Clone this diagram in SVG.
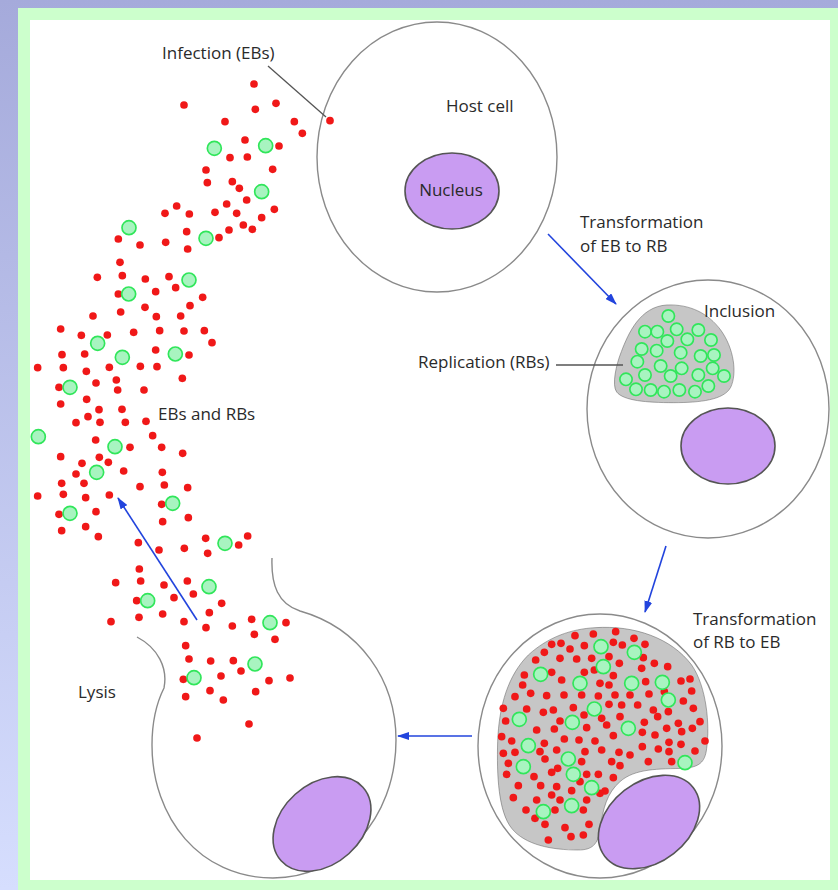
<svg xmlns="http://www.w3.org/2000/svg" xmlns:xlink="http://www.w3.org/1999/xlink" width="838" height="890" viewBox="0 0 838 890">
  <defs>
    <linearGradient id="bg" x1="0" y1="0" x2="0" y2="1">
      <stop offset="0" stop-color="#a5aadb"/>
      <stop offset="1" stop-color="#d6defe"/>
    </linearGradient>
    <marker id="arrow" viewBox="0 0 12 8" refX="11" refY="4" markerWidth="12" markerHeight="8" markerUnits="userSpaceOnUse" orient="auto">
      <path d="M0,0 L12,4 L0,8 Z" fill="#2244dd"/>
    </marker>
    <!-- elementary body (red) and reticulate body (green); drawn in 3x local units -->
    <circle id="eb" r="11.5" fill="#f01818"/>
    <circle id="rb" r="21" fill="#a8f4c0" stroke="#30e65a" stroke-width="5"/>
    <circle id="rbs" r="18.5" fill="#a8f4c0" stroke="#30e65a" stroke-width="5"/>
  </defs>
  <style>
    .membrane { fill: #ffffff; stroke: #8a8a8a; stroke-width: 1.4; }
    .nucleus { fill: #c99cf2; stroke: #555555; stroke-width: 1.6; }
    .inclusion { fill: #c6c6c6; stroke: #5a5a5a; stroke-width: 1.5; }
    .label { font-family: "Open Sans", "Liberation Sans", sans-serif; font-size: 17px; fill: #2a2a2a; }
    .leader { stroke: #555555; stroke-width: 1.3; fill: none; }
    .flow { stroke: #2244dd; stroke-width: 1.6; fill: none; marker-end: url(#arrow); }
  </style>

  <!-- page frame -->
  <rect x="0" y="0" width="838" height="890" fill="url(#bg)"/>
  <rect x="18" y="8" width="820" height="882" fill="#ccffcc"/>
  <rect x="30" y="20" width="800" height="860" fill="#ffffff"/>

  <!-- 1: host cell with nucleus -->
  <g id="host-cell">
    <ellipse class="membrane" cx="437" cy="157" rx="120" ry="135"/>
    <ellipse class="nucleus" cx="452" cy="191" rx="47" ry="38"/>
    <text class="label" x="451" y="196" text-anchor="middle">Nucleus</text>
    <text class="label" x="446" y="112">Host cell</text>
  </g>

  <!-- 2: cell with inclusion of replicating RBs -->
  <g id="inclusion-cell">
    <ellipse class="membrane" cx="708" cy="409" rx="121" ry="129"/>
    <g transform="translate(580,280) scale(0.33333)">
      <path class="inclusion" stroke-width="4.5" d="M260,75 C330,72 385,100 422,150 C462,205 472,280 452,322 C432,360 360,368 280,368 C200,368 130,362 110,336 C95,315 108,255 124,215 C145,160 180,80 260,75 Z"/>
      <use href="#rbs" x="265" y="108"/><use href="#rbs" x="195" y="155"/><use href="#rbs" x="232" y="155"/>
      <use href="#rbs" x="290" y="148"/><use href="#rbs" x="355" y="150"/><use href="#rbs" x="262" y="183"/>
      <use href="#rbs" x="322" y="178"/><use href="#rbs" x="393" y="180"/><use href="#rbs" x="185" y="207"/>
      <use href="#rbs" x="230" y="212"/><use href="#rbs" x="302" y="218"/><use href="#rbs" x="362" y="228"/>
      <use href="#rbs" x="402" y="225"/><use href="#rbs" x="172" y="245"/><use href="#rbs" x="242" y="258"/>
      <use href="#rbs" x="305" y="265"/><use href="#rbs" x="398" y="265"/><use href="#rbs" x="195" y="285"/>
      <use href="#rbs" x="272" y="288"/><use href="#rbs" x="355" y="285"/><use href="#rbs" x="432" y="288"/>
      <use href="#rbs" x="138" y="298"/><use href="#rbs" x="385" y="318"/><use href="#rbs" x="168" y="328"/>
      <use href="#rbs" x="212" y="330"/><use href="#rbs" x="252" y="335"/><use href="#rbs" x="298" y="330"/>
      <use href="#rbs" x="345" y="335"/>
    </g>
    <ellipse class="nucleus" cx="728" cy="446" rx="47" ry="38"/>
    <text class="label" x="704" y="317">Inclusion</text>
  </g>

  <!-- 3: cell packed with EBs and RBs -->
  <g id="mature-cell">
    <ellipse class="membrane" cx="600" cy="746" rx="122" ry="132"/>
    <g transform="translate(485,615) scale(0.33333)">
      <path class="inclusion" stroke-width="4.5" d="M330,38 C450,30 560,70 620,150 C665,215 675,330 665,400 C660,445 640,455 600,460 C520,462 450,460 405,500 C365,535 355,580 345,640 C340,690 320,705 280,705 C200,705 120,690 80,640 C40,590 35,480 38,380 C42,270 70,180 130,120 C190,65 260,42 330,38 Z"/>
      <use href="#eb" x="270" y="62"/><use href="#eb" x="325" y="57"/><use href="#eb" x="392" y="50"/><use href="#eb" x="447" y="70"/>
      <use href="#eb" x="200" y="88"/><use href="#eb" x="228" y="85"/><use href="#eb" x="255" y="102"/><use href="#eb" x="298" y="92"/>
      <use href="#eb" x="385" y="82"/><use href="#eb" x="412" y="90"/><use href="#eb" x="480" y="88"/><use href="#eb" x="178" y="112"/>
      <use href="#eb" x="372" y="125"/><use href="#eb" x="152" y="135"/><use href="#eb" x="225" y="130"/><use href="#eb" x="275" y="132"/>
      <use href="#eb" x="320" y="130"/><use href="#eb" x="403" y="145"/><use href="#eb" x="475" y="128"/><use href="#eb" x="508" y="145"/>
      <use href="#eb" x="548" y="155"/><use href="#eb" x="118" y="180"/><use href="#eb" x="200" y="172"/><use href="#eb" x="298" y="172"/>
      <use href="#eb" x="328" y="165"/><use href="#eb" x="385" y="182"/><use href="#eb" x="470" y="160"/><use href="#eb" x="113" y="210"/>
      <use href="#eb" x="230" y="195"/><use href="#eb" x="345" y="205"/><use href="#eb" x="372" y="210"/><use href="#eb" x="482" y="200"/>
      <use href="#eb" x="588" y="198"/><use href="#eb" x="615" y="192"/><use href="#eb" x="90" y="245"/><use href="#eb" x="137" y="235"/>
      <use href="#eb" x="185" y="242"/><use href="#eb" x="237" y="240"/><use href="#eb" x="290" y="240"/><use href="#eb" x="340" y="243"/>
      <use href="#eb" x="390" y="240"/><use href="#eb" x="435" y="240"/><use href="#eb" x="492" y="237"/><use href="#eb" x="538" y="230"/>
      <use href="#eb" x="620" y="228"/><use href="#eb" x="55" y="280"/><use href="#eb" x="125" y="282"/><use href="#eb" x="175" y="292"/>
      <use href="#eb" x="205" y="285"/><use href="#eb" x="265" y="278"/><use href="#eb" x="297" y="300"/><use href="#eb" x="372" y="268"/>
      <use href="#eb" x="410" y="270"/><use href="#eb" x="458" y="270"/><use href="#eb" x="505" y="285"/><use href="#eb" x="595" y="258"/>
      <use href="#eb" x="550" y="290"/><use href="#eb" x="625" y="280"/><use href="#eb" x="62" y="318"/><use href="#eb" x="225" y="318"/>
      <use href="#eb" x="350" y="310"/><use href="#eb" x="405" y="305"/><use href="#eb" x="478" y="322"/><use href="#eb" x="518" y="305"/>
      <use href="#eb" x="580" y="325"/><use href="#eb" x="645" y="320"/><use href="#eb" x="50" y="365"/><use href="#eb" x="155" y="345"/>
      <use href="#eb" x="208" y="342"/><use href="#eb" x="305" y="338"/><use href="#eb" x="365" y="330"/><use href="#eb" x="472" y="352"/>
      <use href="#eb" x="510" y="360"/><use href="#eb" x="545" y="340"/><use href="#eb" x="590" y="350"/><use href="#eb" x="622" y="340"/>
      <use href="#eb" x="80" y="378"/><use href="#eb" x="178" y="385"/><use href="#eb" x="238" y="372"/><use href="#eb" x="282" y="375"/>
      <use href="#eb" x="330" y="378"/><use href="#eb" x="385" y="362"/><use href="#eb" x="552" y="382"/><use href="#eb" x="588" y="388"/>
      <use href="#eb" x="660" y="378"/><use href="#eb" x="55" y="415"/><use href="#eb" x="90" y="412"/><use href="#eb" x="165" y="410"/>
      <use href="#eb" x="215" y="405"/><use href="#eb" x="300" y="410"/><use href="#eb" x="350" y="405"/><use href="#eb" x="402" y="412"/>
      <use href="#eb" x="435" y="420"/><use href="#eb" x="472" y="395"/><use href="#eb" x="520" y="402"/><use href="#eb" x="552" y="410"/>
      <use href="#eb" x="630" y="408"/><use href="#eb" x="70" y="445"/><use href="#eb" x="180" y="432"/><use href="#eb" x="290" y="440"/>
      <use href="#eb" x="380" y="440"/><use href="#eb" x="405" y="452"/><use href="#eb" x="490" y="440"/><use href="#eb" x="560" y="440"/>
      <use href="#eb" x="65" y="478"/><use href="#eb" x="147" y="485"/><use href="#eb" x="200" y="472"/><use href="#eb" x="218" y="460"/>
      <use href="#eb" x="305" y="478"/><use href="#eb" x="340" y="478"/><use href="#eb" x="385" y="488"/><use href="#eb" x="100" y="512"/>
      <use href="#eb" x="167" y="512"/><use href="#eb" x="215" y="515"/><use href="#eb" x="285" y="500"/><use href="#eb" x="360" y="528"/>
      <use href="#eb" x="85" y="548"/><use href="#eb" x="155" y="555"/><use href="#eb" x="200" y="540"/><use href="#eb" x="225" y="555"/>
      <use href="#eb" x="260" y="527"/><use href="#eb" x="305" y="555"/><use href="#eb" x="123" y="585"/><use href="#eb" x="150" y="610"/>
      <use href="#eb" x="210" y="585"/><use href="#eb" x="295" y="585"/><use href="#eb" x="180" y="628"/><use href="#eb" x="240" y="638"/>
      <use href="#eb" x="312" y="628"/><use href="#eb" x="190" y="675"/><use href="#eb" x="258" y="665"/><use href="#eb" x="295" y="660"/>
      <use href="#eb" x="345" y="535"/>
      <use href="#rb" x="348" y="95"/><use href="#rb" x="448" y="112"/><use href="#rb" x="355" y="155"/><use href="#rb" x="167" y="178"/>
      <use href="#rb" x="285" y="205"/><use href="#rb" x="440" y="205"/><use href="#rb" x="532" y="202"/><use href="#rb" x="550" y="255"/>
      <use href="#rb" x="328" y="282"/><use href="#rb" x="103" y="313"/><use href="#rb" x="262" y="322"/><use href="#rb" x="430" y="340"/>
      <use href="#rb" x="130" y="392"/><use href="#rb" x="250" y="432"/><use href="#rb" x="115" y="455"/><use href="#rb" x="265" y="478"/>
      <use href="#rb" x="320" y="518"/><use href="#rb" x="600" y="443"/><use href="#rb" x="260" y="572"/><use href="#rb" x="175" y="590"/>
    </g>
    <ellipse class="nucleus" cx="649" cy="822" rx="56" ry="40" transform="rotate(-38 649 822)"/>
  </g>

  <!-- 4: lysed cell, open at the top -->
  <g id="lysis-cell">
    <path class="membrane" fill="none" d="M272,558 C271,585 278,604 300,611 C360,628 396,680 396,740 C396,820 340,878 273,878 C200,878 152,818 152,745 C152,718 158,700 164,688 C168,668 158,648 137,637"/>
    <ellipse class="nucleus" cx="322" cy="824" rx="55" ry="40" transform="rotate(-42 322 824)"/>
    <text class="label" x="78" y="698">Lysis</text>
  </g>

  <!-- released EBs and RBs -->
  <g id="released-bodies">
    <g transform="translate(150,80) scale(0.33333)">
      <use href="#eb" x="312" y="12"/><use href="#eb" x="102" y="75"/><use href="#eb" x="378" y="70"/><use href="#eb" x="316" y="88"/>
      <use href="#eb" x="225" y="125"/><use href="#eb" x="433" y="125"/><use href="#eb" x="457" y="160"/><use href="#eb" x="540" y="122"/>
      <use href="#eb" x="285" y="180"/><use href="#eb" x="387" y="198"/><use href="#eb" x="240" y="233"/><use href="#eb" x="292" y="231"/>
      <use href="#eb" x="168" y="270"/><use href="#eb" x="368" y="268"/>
      <use href="#rb" x="193" y="205"/><use href="#rb" x="347" y="197"/>
    </g>
    <g transform="translate(20,180) scale(0.33333)">
      <use href="#eb" x="562" y="8"/><use href="#eb" x="637" y="5"/><use href="#eb" x="658" y="25"/><use href="#eb" x="680" y="60"/>
      <use href="#eb" x="620" y="72"/><use href="#eb" x="650" y="100"/><use href="#eb" x="585" y="97"/><use href="#eb" x="763" y="88"/>
      <use href="#eb" x="725" y="113"/><use href="#eb" x="670" y="135"/><use href="#eb" x="697" y="148"/><use href="#eb" x="627" y="150"/>
      <use href="#eb" x="597" y="173"/><use href="#eb" x="500" y="155"/><use href="#eb" x="508" y="102"/><use href="#eb" x="470" y="78"/>
      <use href="#eb" x="435" y="100"/><use href="#eb" x="437" y="187"/><use href="#eb" x="503" y="207"/><use href="#eb" x="360" y="195"/>
      <use href="#eb" x="295" y="177"/><use href="#eb" x="300" y="247"/><use href="#eb" x="307" y="287"/><use href="#eb" x="232" y="292"/>
      <use href="#eb" x="376" y="297"/><use href="#eb" x="447" y="290"/><use href="#eb" x="467" y="323"/><use href="#eb" x="407" y="335"/>
      <use href="#eb" x="295" y="342"/><use href="#eb" x="548" y="352"/><use href="#eb" x="510" y="377"/><use href="#eb" x="375" y="382"/>
      <use href="#eb" x="302" y="396"/><use href="#eb" x="219" y="408"/><use href="#eb" x="409" y="410"/><use href="#eb" x="482" y="408"/>
      <use href="#eb" x="122" y="447"/><use href="#eb" x="184" y="466"/><use href="#eb" x="262" y="465"/><use href="#eb" x="341" y="457"/>
      <use href="#eb" x="419" y="452"/><use href="#eb" x="492" y="453"/><use href="#eb" x="553" y="452"/><use href="#eb" x="576" y="488"/>
      <use href="#eb" x="126" y="524"/><use href="#eb" x="194" y="522"/><use href="#eb" x="407" y="510"/><use href="#eb" x="507" y="525"/>
      <use href="#eb" x="53" y="563"/><use href="#eb" x="130" y="563"/><use href="#eb" x="199" y="574"/><use href="#eb" x="268" y="562"/>
      <use href="#eb" x="361" y="559"/><use href="#eb" x="411" y="560"/><use href="#eb" x="487" y="595"/><use href="#eb" x="117" y="622"/>
      <use href="#eb" x="228" y="609"/><use href="#eb" x="289" y="600"/><use href="#eb" x="293" y="630"/><use href="#eb" x="372" y="630"/>
      <use href="#eb" x="200" y="658"/><use href="#eb" x="122" y="672"/><use href="#eb" x="237" y="689"/><use href="#eb" x="306" y="688"/>
      <use href="#eb" x="168" y="728"/><use href="#eb" x="204" y="710"/><use href="#eb" x="240" y="727"/><use href="#eb" x="316" y="727"/>
      <use href="#eb" x="378" y="724"/><use href="#eb" x="398" y="767"/><use href="#eb" x="227" y="780"/><use href="#eb" x="330" y="802"/>
      <use href="#eb" x="425" y="802"/><use href="#eb" x="488" y="820"/><use href="#eb" x="122" y="830"/><use href="#eb" x="238" y="832"/>
      <use href="#eb" x="265" y="847"/><use href="#eb" x="186" y="850"/><use href="#eb" x="311" y="873"/><use href="#eb" x="427" y="877"/>
      <use href="#eb" x="168" y="882"/>
      <use href="#rb" x="725" y="35"/><use href="#rb" x="558" y="175"/><use href="#rb" x="327" y="143"/><use href="#rb" x="507" y="300"/>
      <use href="#rb" x="326" y="342"/><use href="#rb" x="233" y="490"/><use href="#rb" x="307" y="532"/><use href="#rb" x="466" y="522"/>
      <use href="#rb" x="150" y="622"/><use href="#rb" x="55" y="770"/><use href="#rb" x="285" y="800"/><use href="#rb" x="230" y="877"/>
    </g>
    <g transform="translate(20,480) scale(0.33333)">
      <use href="#eb" x="125" y="10"/><use href="#eb" x="192" y="10"/><use href="#eb" x="53" y="48"/><use href="#eb" x="130" y="43"/>
      <use href="#eb" x="197" y="53"/><use href="#eb" x="268" y="45"/><use href="#eb" x="360" y="20"/><use href="#eb" x="433" y="15"/>
      <use href="#eb" x="503" y="23"/><use href="#eb" x="425" y="73"/><use href="#eb" x="117" y="103"/><use href="#eb" x="228" y="95"/>
      <use href="#eb" x="505" y="113"/><use href="#eb" x="428" y="125"/><use href="#eb" x="125" y="152"/><use href="#eb" x="197" y="140"/>
      <use href="#eb" x="235" y="170"/><use href="#eb" x="355" y="188"/><use href="#eb" x="417" y="210"/><use href="#eb" x="493" y="205"/>
      <use href="#eb" x="557" y="175"/><use href="#eb" x="563" y="220"/><use href="#eb" x="656" y="195"/><use href="#eb" x="683" y="168"/>
      <use href="#eb" x="358" y="267"/><use href="#eb" x="287" y="308"/><use href="#eb" x="362" y="303"/><use href="#eb" x="432" y="315"/>
      <use href="#eb" x="502" y="303"/><use href="#eb" x="520" y="342"/><use href="#eb" x="350" y="362"/><use href="#eb" x="462" y="353"/>
      <use href="#eb" x="605" y="370"/><use href="#eb" x="273" y="425"/><use href="#eb" x="357" y="412"/><use href="#eb" x="428" y="402"/>
      <use href="#eb" x="492" y="425"/><use href="#eb" x="568" y="398"/><use href="#eb" x="558" y="443"/><use href="#eb" x="637" y="438"/>
      <use href="#eb" x="695" y="418"/><use href="#eb" x="798" y="428"/><use href="#eb" x="703" y="463"/><use href="#eb" x="765" y="478"/>
      <use href="#eb" x="497" y="497"/><use href="#eb" x="507" y="537"/><use href="#eb" x="572" y="543"/><use href="#eb" x="640" y="542"/>
      <use href="#eb" x="663" y="573"/><use href="#eb" x="490" y="598"/><use href="#eb" x="603" y="588"/><use href="#eb" x="747" y="602"/>
      <use href="#eb" x="810" y="594"/><use href="#eb" x="570" y="632"/><use href="#eb" x="707" y="635"/><use href="#eb" x="497" y="650"/>
      <use href="#eb" x="610" y="660"/><use href="#eb" x="687" y="732"/><use href="#eb" x="531" y="774"/>
      <use href="#rb" x="458" y="70"/><use href="#rb" x="150" y="100"/><use href="#rb" x="615" y="190"/><use href="#rb" x="567" y="320"/>
      <use href="#rb" x="383" y="362"/><use href="#rb" x="750" y="428"/><use href="#rb" x="705" y="552"/><use href="#rb" x="522" y="593"/>
    </g>
  </g>

  <!-- annotations -->
  <g id="labels">
    <text class="label" x="162" y="59">Infection (EBs)</text>
    <text class="label" x="580" y="228">Transformation</text>
    <text class="label" x="580" y="252">of EB to RB</text>
    <text class="label" x="418" y="368">Replication (RBs)</text>
    <text class="label" x="158" y="420">EBs and RBs</text>
    <text class="label" x="693" y="625">Transformation</text>
    <text class="label" x="693" y="648">of RB to EB</text>
  </g>

  <!-- connectors -->
  <g id="connectors">
    <line class="leader" x1="268" y1="66" x2="326" y2="117"/>
    <line class="leader" x1="556" y1="365" x2="623" y2="365"/>
    <line class="flow" x1="548" y1="234" x2="616" y2="304"/>
    <line class="flow" x1="666" y1="546" x2="645" y2="612"/>
    <line class="flow" x1="472" y1="736" x2="398" y2="736"/>
    <line class="flow" x1="197" y1="620" x2="118" y2="498"/>
  </g>
</svg>
